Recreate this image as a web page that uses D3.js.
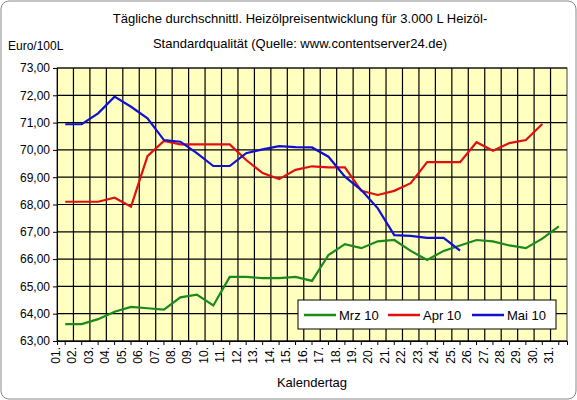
<!DOCTYPE html>
<html><head><meta charset="utf-8">
<script src="https://cdn.jsdelivr.net/npm/d3@7"></script>
<style>body{margin:0;background:#fff;font-family:"Liberation Sans",Arial,sans-serif;}</style>
</head><body><div id="chart"></div>
<script>
const days = d3.range(1, 32).map(d => (d < 10 ? "0" + d : "" + d) + ".");
const yTicks = d3.range(63, 73.01, 1);
const mrz = [63.62,63.62,63.8,64.07,64.25,64.2,64.15,64.6,64.7,64.3,65.35,65.35,65.3,65.3,65.35,65.2,66.15,66.55,66.4,66.65,66.7,66.3,65.97,66.3,66.5,66.7,66.65,66.5,66.4,66.75,67.2];
const apr = [68.1,68.1,68.1,68.25,67.92,69.77,70.33,70.2,70.2,70.2,70.2,69.63,69.15,68.93,69.27,69.4,69.36,69.36,68.5,68.35,68.5,68.78,69.55,69.55,69.55,70.28,69.97,70.25,70.36,70.95];
const mai = [70.94,70.94,71.34,71.95,71.58,71.16,70.36,70.3,69.88,69.41,69.41,69.88,70.02,70.14,70.1,70.09,69.75,69.02,68.53,67.86,66.88,66.85,66.78,66.78,66.31];
const series = [
  {name: "Mrz 10", values: mrz, color: "#1a8a1a"},
  {name: "Apr 10", values: apr, color: "#e01010"},
  {name: "Mai 10", values: mai, color: "#1010d0"}
];

const W = 577, H = 400;
const m = {left: 57, right: 10, top: 68, bottom: 59};
const svg = d3.select("#chart").append("svg").attr("width", W).attr("height", H);

svg.append("rect").attr("x", 1).attr("y", 1).attr("width", W - 2).attr("height", H - 2)
  .attr("rx", 8).attr("fill", "#fff").attr("stroke", "#888");

const x = d3.scaleBand().domain(days).range([m.left, W - m.right]);
const y = d3.scaleLinear().domain([63, 73]).range([H - m.bottom, m.top]);

// plot background
svg.append("rect").attr("x", m.left).attr("y", m.top)
  .attr("width", W - m.left - m.right).attr("height", H - m.top - m.bottom)
  .attr("fill", "#ffffc0").attr("stroke", "#444");

// gridlines
svg.append("g").selectAll("line").data(yTicks).join("line")
  .attr("x1", m.left).attr("x2", W - m.right)
  .attr("y1", d => y(d)).attr("y2", d => y(d))
  .attr("stroke", "#000").attr("stroke-width", 1.2);
svg.append("g").selectAll("line").data(days.slice(1)).join("line")
  .attr("x1", d => x(d)).attr("x2", d => x(d))
  .attr("y1", m.top).attr("y2", H - m.bottom)
  .attr("stroke", "#000").attr("stroke-width", 1.2);

// axes
const yAxis = svg.append("g").attr("transform", "translate(" + m.left + ",0)")
  .call(d3.axisLeft(y).tickValues(yTicks).tickSize(4).tickFormat(d => d3.format(".2f")(d).replace(".", ",")));
yAxis.selectAll("text").attr("font-size", 12).attr("fill", "#000").attr("font-family", "Liberation Sans, Arial");

const xAxis = svg.append("g").attr("transform", "translate(0," + (H - m.bottom) + ")")
  .call(d3.axisBottom(x).tickSize(4));
xAxis.selectAll("text").attr("font-size", 12).attr("fill", "#000").attr("font-family", "Liberation Sans, Arial")
  .attr("transform", "rotate(-90)").attr("text-anchor", "end").attr("dx", "-6").attr("dy", "-0.45em").attr("y", 0).attr("x", 0);

// lines
const line = d3.line().x((d, i) => x(days[i]) + x.bandwidth() / 2).y(d => y(d));
svg.append("g").selectAll("path").data(series).join("path")
  .attr("d", d => line(d.values)).attr("fill", "none")
  .attr("stroke", d => d.color).attr("stroke-width", 2.2);

// titles
svg.append("text").attr("x", 300).attr("y", 23).attr("text-anchor", "middle").attr("font-size", 13)
  .text("Tägliche durchschnittl. Heizölpreisentwicklung für 3.000 L Heizöl-");
svg.append("text").attr("x", 300).attr("y", 48).attr("text-anchor", "middle").attr("font-size", 13)
  .text("Standardqualität (Quelle: www.contentserver24.de)");
svg.append("text").attr("x", 8).attr("y", 50).attr("font-size", 12).text("Euro/100L");
svg.append("text").attr("x", 312).attr("y", 387).attr("text-anchor", "middle").attr("font-size", 13).text("Kalendertag");

// legend
const lg = svg.append("g").attr("transform", "translate(298,300)");
lg.append("rect").attr("width", 258).attr("height", 29).attr("fill", "#fff").attr("stroke", "#000");
const items = lg.selectAll("g").data(series).join("g").attr("transform", (d, i) => "translate(" + (6 + i * 84) + ",15)");
items.append("line").attr("x1", 0).attr("x2", 32).attr("stroke", d => d.color).attr("stroke-width", 2.5);
items.append("text").attr("x", 35).attr("y", 5).attr("font-size", 13).text(d => d.name);
</script></body></html>
